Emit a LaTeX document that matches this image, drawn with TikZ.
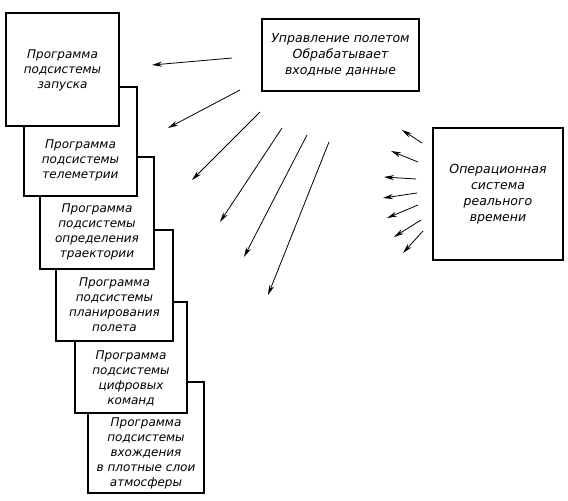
\documentclass[tikz,border=0pt]{standalone}
\usepackage{fontspec}
\setmainfont{DejaVu Sans}
\usetikzlibrary{arrows.meta}
\tikzset{
  prog/.style={align=center, font=\fontsize{12}{15}\selectfont\itshape, inner sep=0pt},
  sysbox/.style={draw, line width=1.2pt, align=center, font=\fontsize{12.5}{16}\selectfont\itshape},
  arr/.style={line width=0.8pt, -{Stealth[length=10pt, width=5pt]}}
}
\newcommand{\progbox}[7]{ \filldraw[fill=white, line width=1.2pt] ( #1 , #2 ) rectangle ( #3 , #4 ); \node[prog] (#5) at (#1 * 0.5 + #3 * 0.5 , #6) {#7};}

\begin{document}
\begin{tikzpicture}[x=1pt, y=-1pt]
        \useasboundingbox (0,0) rectangle (568,501);
        % stacked programs, lowest first
        \progbox{88}{382}{204}{493}{reentry}{453}{Программа\\подсистемы\\вхождения\\в плотные слои\\атмосферы}
        \progbox{75}{302}{187}{413}{commands}{378}{Программа\\подсистемы\\цифровых\\команд}
        \progbox{56}{230}{173}{341}{planning}{305}{Программа\\подсистемы\\планирования\\полета}
        \progbox{40}{157}{154}{269}{trajectory}{232}{Программа\\подсистемы\\определения\\траектории}
        \progbox{24}{87}{137}{196}{telemetry}{160}{Программа\\подсистемы\\телеметрии}
        \progbox{6}{13}{119}{126}{launch}{70}{\baselineskip=17pt Программа\\подсистемы\\запуска}
        % control and operating system
        \node[sysbox, minimum width=157pt, minimum height=72pt] (ctrl) at (340.5,55) {Управление полетом\\Обрабатывает\\входные данные};
        \node[sysbox, minimum width=130pt, minimum height=132pt] (os) at (498,194) {Операционная\\система\\реального\\времени};
        % arrows
        \foreach \xa/\ya/\xb/\yb in {232/58/152/65, 240/90/168/128, 260/112/192/180, 282/128/220/222, 307/135/244/257, 329/142/268/295}
            \draw[arr] (\xa,\ya) -- (\xb,\yb);
        \foreach \xa/\ya/\xb/\yb in {422/143/402/130, 418/162/391/151, 416/179/384/177, 417/193/383/198, 418/205/387/218, 421/220/394/237, 423/231/403/253}
            \draw[arr] (\xa,\ya) -- (\xb,\yb);
    \end{tikzpicture}
\end{document}
